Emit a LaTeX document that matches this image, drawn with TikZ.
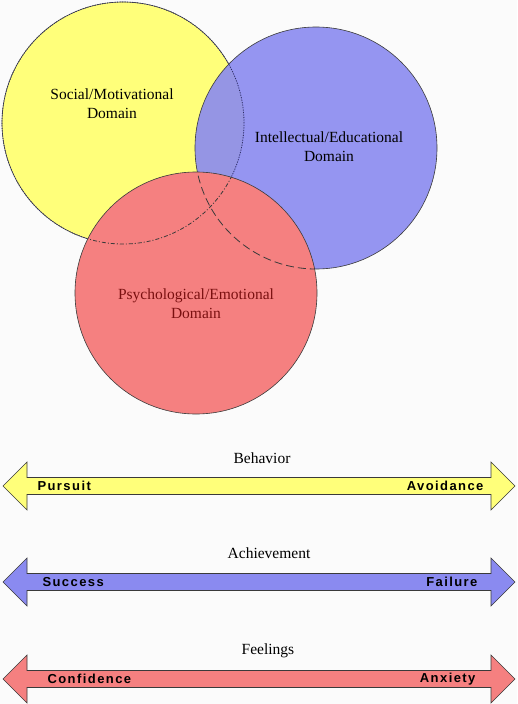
\documentclass[tikz,border=0pt]{standalone}
\usepackage{fontspec}
\setmainfont{Liberation Serif}
\newfontfamily\barfont[LetterSpace=11]{Liberation Sans}
\usetikzlibrary{positioning}
\definecolor{paper}{HTML}{FBFBFB}
\definecolor{soc}{HTML}{FFFF7A}
\definecolor{intel}{HTML}{8A8AF0}
\definecolor{psych}{HTML}{F58080}
\definecolor{rim}{HTML}{3A3A3A}
\definecolor{psytext}{HTML}{7A1010}
\tikzset{
  zone/.style={circle, minimum size=242pt, inner sep=0pt, draw=rim, line width=0.6pt},
  hidD/.style={draw=rim!80!blue, line width=0.8pt, dash pattern=on 1pt off 1.5pt},
  hidS/.style={draw=rim, line width=0.8pt, dash pattern=on 4pt off 2pt on 1pt off 2pt},
  hidI/.style={draw=rim, line width=0.8pt, dash pattern=on 8pt off 4pt},
  zlab/.style={align=center, font=\fontsize{15.5}{19}\selectfont},
  band/.style={draw=rim, line width=0.6pt},
  btitle/.style={font=\fontsize{15.5}{19}\selectfont},
  endlab/.style={font=\barfont\bfseries\fontsize{13}{15}\selectfont}
}
\begin{document}
\begin{tikzpicture}[x=1pt, y=-1pt]
  \useasboundingbox[fill=paper] (0,0) rectangle (517,704);

  % the three domains
  \node[zone, fill=soc] (social) at (123,123) {};
  \node[zone, fill=intel, fill opacity=0.9] (intellect) at (316,148) {};
  \draw[hidD] (social.center) circle (121pt);
  \node[zone, fill=psych] (psycho) at (196,293) {};
  \begin{scope}
    \clip (psycho.center) circle (121pt);
    \draw[hidS] (social.center) circle (121pt);
    \draw[hidI] (intellect.center) circle (121pt);
  \end{scope}

  \node[zlab] (sociallab) at (112,104) {Social/Motivational\\Domain};
  \node[zlab] (intellab) at (329,147) {Intellectual/Educational\\Domain};
  \node[zlab, text=psytext] (psycholab) at (196,304) {Psychological/Emotional\\Domain};

  % the three scales
  \foreach \c/\col in {486/soc, 582/intel, 679/psych}
    \draw[band, fill=\col] (3,\c) -- (27,\c-24) -- (27,\c-8.5) -- (491,\c-8.5)
      -- (491,\c-24) -- (515,\c) -- (491,\c+24) -- (491,\c+8.5)
      -- (27,\c+8.5) -- (27,\c+24) -- cycle;

  \node[btitle] (behavior) at (262,458) {Behavior};
  \node[endlab, anchor=west] (pursuit) at (34,486) {Pursuit};
  \node[endlab, anchor=east] (avoid) at (487,486) {Avoidance};

  \node[btitle] (achieve) at (269,553) {Achievement};
  \node[endlab, anchor=west] (success) at (39,582) {Success};
  \node[endlab, anchor=east] (failure) at (481,582) {Failure};

  \node[btitle] (feelings) at (268,651) {Feelings};
  \node[endlab, anchor=west] (confid) at (44,679) {Confidence};
  \node[endlab, anchor=east] (anxiety) at (479,679) {Anxiety};
\end{tikzpicture}
\end{document}
